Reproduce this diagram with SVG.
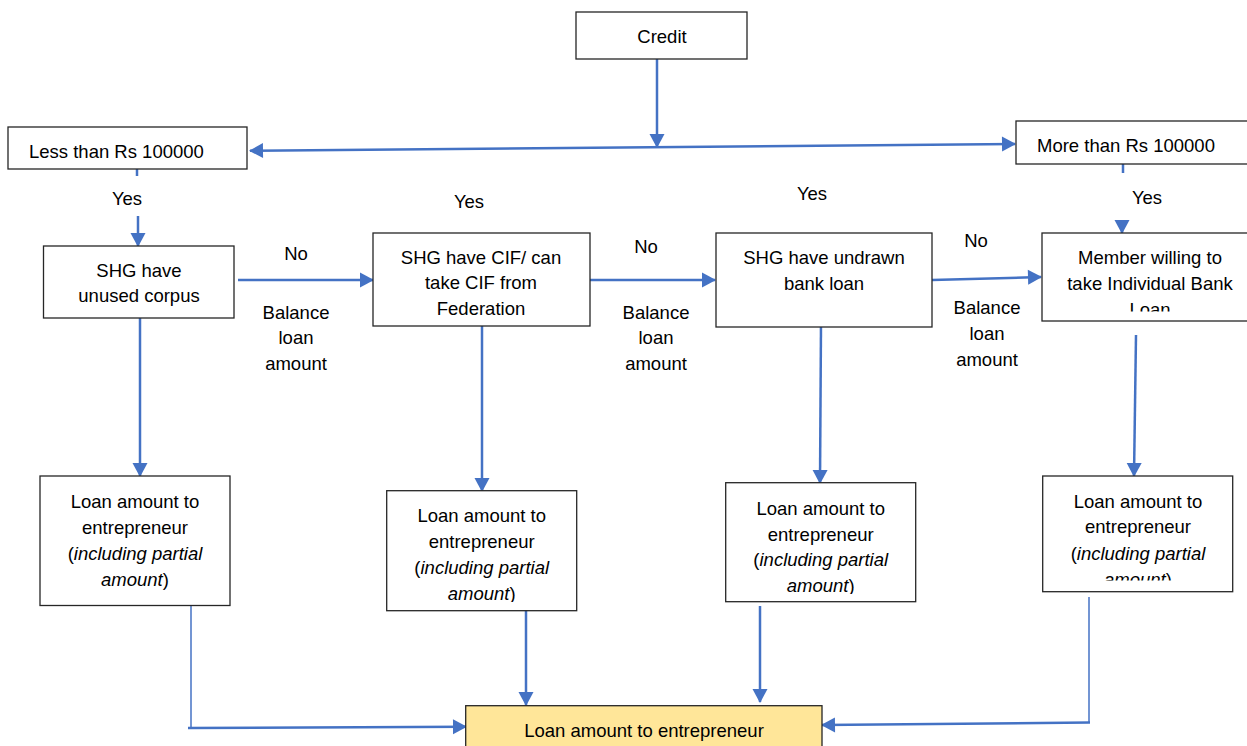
<svg xmlns="http://www.w3.org/2000/svg" width="1247" height="746" viewBox="0 0 1247 746">
<style>
.box{fill:#fff;stroke:#262626;stroke-width:1.3}
.t{font-family:"Liberation Sans",Arial,sans-serif;font-size:18.5px;fill:#000}
.c{text-anchor:middle}
.i{font-style:italic}
.ln{fill:none;stroke:#4472C4;stroke-width:2.5}
.thin{fill:none;stroke:#4472C4;stroke-width:1.5}
</style>
<defs>
<marker id="ah" markerUnits="userSpaceOnUse" markerWidth="14" markerHeight="16" refX="13" refY="8" orient="auto-start-reverse" overflow="visible">
<path d="M0,0.5 L14,8 L0,15.5 Z" fill="#4472C4"/>
</marker>
<clipPath id="clipMember"><rect x="1042" y="233" width="210" height="78.5"/></clipPath>
<clipPath id="clipB3"><rect x="726" y="483" width="190" height="111"/></clipPath>
<clipPath id="clipB4"><rect x="1043" y="476" width="190" height="104.5"/></clipPath>
<clipPath id="clipB2"><rect x="387" y="491" width="190" height="111"/></clipPath>
</defs>
<rect width="1247" height="746" fill="#fff"/>

<g id="connectors">
<line class="ln" x1="657" y1="52" x2="657" y2="147" marker-end="url(#ah)"/>
<line class="ln" x1="250" y1="150.7" x2="1015" y2="144" marker-start="url(#ah)" marker-end="url(#ah)"/>
<line class="ln" x1="137" y1="169" x2="137" y2="176"/>
<line class="ln" x1="138" y1="216" x2="138" y2="246" marker-end="url(#ah)"/>
<line class="ln" x1="1123" y1="164" x2="1123" y2="173"/>
<line class="ln" x1="1122" y1="221" x2="1122" y2="233" marker-end="url(#ah)"/>
<line class="ln" x1="238" y1="280" x2="373" y2="280" marker-end="url(#ah)"/>
<line class="ln" x1="590" y1="280" x2="715" y2="280" marker-end="url(#ah)"/>
<line class="ln" x1="932" y1="280" x2="1041" y2="277" marker-end="url(#ah)"/>
<line class="ln" x1="140" y1="309" x2="140" y2="476" marker-end="url(#ah)"/>
<line class="ln" x1="482" y1="326" x2="482" y2="491" marker-end="url(#ah)"/>
<line class="ln" x1="821" y1="322" x2="820" y2="483" marker-end="url(#ah)"/>
<line class="ln" x1="1136" y1="335" x2="1134" y2="476" marker-end="url(#ah)"/>
<line class="thin" x1="191" y1="605" x2="191" y2="728"/>
<line class="ln" x1="188" y1="728" x2="466" y2="726.7" marker-end="url(#ah)"/>
<line class="ln" x1="526" y1="610" x2="526" y2="705" marker-end="url(#ah)"/>
<line class="ln" x1="760" y1="606" x2="760" y2="702" marker-end="url(#ah)"/>
<line class="thin" x1="1089" y1="597" x2="1089" y2="722.7"/>
<line class="ln" x1="1090" y1="722.5" x2="822" y2="725" marker-end="url(#ah)"/>
</g>

<g id="labels">
<text class="t c" x="127" y="205">Yes</text>
<text class="t c" x="469" y="208">Yes</text>
<text class="t c" x="812" y="200">Yes</text>
<text class="t c" x="1147" y="204">Yes</text>
<text class="t c" x="296" y="260">No</text>
<text class="t c" x="296" y="319">Balance</text>
<text class="t c" x="296" y="344">loan</text>
<text class="t c" x="296" y="370">amount</text>
<text class="t c" x="646" y="253">No</text>
<text class="t c" x="656" y="319">Balance</text>
<text class="t c" x="656" y="344">loan</text>
<text class="t c" x="656" y="370">amount</text>
<text class="t c" x="976" y="247">No</text>
<text class="t c" x="987" y="314">Balance</text>
<text class="t c" x="987" y="340">loan</text>
<text class="t c" x="987" y="366">amount</text>
</g>

<g id="credit">
<rect class="box" x="576" y="12" width="171" height="47"/>
<text class="t c" x="662" y="43">Credit</text>
</g>

<g id="less">
<rect class="box" x="8" y="127" width="239" height="42"/>
<text class="t" x="29" y="158">Less than Rs 100000</text>
</g>

<g id="more">
<rect class="box" x="1016" y="121" width="240" height="43"/>
<text class="t" x="1037" y="152">More than Rs 100000</text>
</g>

<g id="unused">
<rect class="box" x="43.5" y="246" width="190.5" height="72"/>
<text class="t c" x="139" y="277">SHG have</text>
<text class="t c" x="139" y="302">unused corpus</text>
</g>

<g id="cif">
<rect class="box" x="373" y="233" width="217" height="93"/>
<text class="t c" x="481" y="264">SHG have CIF/ can</text>
<text class="t c" x="481" y="289">take CIF from</text>
<text class="t c" x="481" y="315">Federation</text>
</g>

<g id="undrawn">
<rect class="box" x="716" y="233" width="216" height="94"/>
<text class="t c" x="824" y="264">SHG have undrawn</text>
<text class="t c" x="824" y="290">bank loan</text>
</g>

<g id="member">
<rect class="box" x="1042" y="233" width="215" height="88"/>
<g clip-path="url(#clipMember)">
<text class="t c" x="1150" y="264">Member willing to</text>
<text class="t c" x="1150" y="290">take Individual Bank</text>
<text class="t c" x="1150" y="316">Loan</text>
</g>
</g>

<g id="out1">
<rect class="box" x="40" y="476" width="190" height="129.5"/>
<text class="t c" x="135" y="508">Loan amount to</text>
<text class="t c" x="135" y="534">entrepreneur</text>
<text class="t c" x="135" y="560">(<tspan class="i">including partial</tspan></text>
<text class="t c" x="135" y="586"><tspan class="i">amount</tspan>)</text>
</g>

<g id="out2">
<rect class="box" x="386.7" y="490.7" width="190" height="120"/>
<g clip-path="url(#clipB2)">
<text class="t c" x="481.7" y="522">Loan amount to</text>
<text class="t c" x="481.7" y="548">entrepreneur</text>
<text class="t c" x="481.7" y="574">(<tspan class="i">including partial</tspan></text>
<text class="t c" x="481.7" y="600"><tspan class="i">amount</tspan>)</text>
</g>
</g>

<g id="out3">
<rect class="box" x="725.7" y="482.7" width="190" height="119"/>
<g clip-path="url(#clipB3)">
<text class="t c" x="820.7" y="515">Loan amount to</text>
<text class="t c" x="820.7" y="541">entrepreneur</text>
<text class="t c" x="820.7" y="566">(<tspan class="i">including partial</tspan></text>
<text class="t c" x="820.7" y="592"><tspan class="i">amount</tspan>)</text>
</g>
</g>

<g id="out4">
<rect class="box" x="1042.7" y="476" width="190" height="115.7"/>
<g clip-path="url(#clipB4)">
<text class="t c" x="1138" y="508">Loan amount to</text>
<text class="t c" x="1138" y="533">entrepreneur</text>
<text class="t c" x="1138" y="560">(<tspan class="i">including partial</tspan></text>
<text class="t c" x="1138" y="586"><tspan class="i">amount</tspan>)</text>
</g>
</g>

<g id="final">
<rect x="465.7" y="705.7" width="356.3" height="50" fill="#FFE699" stroke="#262626" stroke-width="1.3"/>
<text class="t c" x="644" y="737">Loan amount to entrepreneur</text>
</g>
</svg>
